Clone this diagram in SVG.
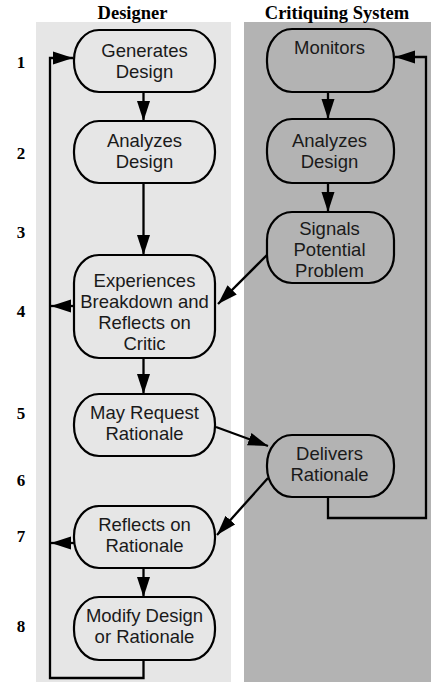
<svg xmlns="http://www.w3.org/2000/svg" width="431" height="682" viewBox="0 0 431 682">
<style>
.hdr{font-family:"Liberation Serif","Times New Roman",serif;font-weight:bold;font-size:18.5px;fill:#000;text-anchor:middle}
.num{font-family:"Liberation Serif","Times New Roman",serif;font-weight:bold;font-size:17px;fill:#000;text-anchor:middle}
.lbl{font-family:"Liberation Sans",Arial,sans-serif;font-size:18.5px;fill:#1a1a1a;text-anchor:middle}
.nl{fill:#e6e6e6;stroke:#000;stroke-width:2.2}
.nr{fill:#b3b3b3;stroke:#000;stroke-width:2.2}
.c{fill:none;stroke:#000;stroke-width:2.3;marker-end:url(#ah)}
</style>
<defs>
<marker id="ah" markerUnits="userSpaceOnUse" markerWidth="21" markerHeight="14" refX="20" refY="6.5" orient="auto" viewBox="0 0 21 13">
<path d="M0,0 L20,6.5 L0,13 z" fill="#000"/>
</marker>
</defs>
<rect x="0" y="0" width="431" height="682" fill="#fff"/>
<rect x="36" y="22" width="195" height="660" fill="#e6e6e6"/>
<rect x="244" y="22" width="187" height="660" fill="#b3b3b3"/>
<text class="hdr" x="132.5" y="19">Designer</text>
<text class="hdr" x="337" y="19">Critiquing System</text>
<g id="step-numbers">
<text class="num" x="21" y="68">1</text>
<text class="num" x="21" y="159">2</text>
<text class="num" x="21" y="238">3</text>
<text class="num" x="21" y="317">4</text>
<text class="num" x="21" y="419">5</text>
<text class="num" x="21" y="486">6</text>
<text class="num" x="21" y="542">7</text>
<text class="num" x="21" y="632">8</text>
</g>
<g id="connectors">
<line class="c" x1="143.5" y1="92" x2="143.5" y2="121"/>
<line class="c" x1="143.5" y1="183" x2="143.5" y2="255"/>
<line class="c" x1="143.5" y1="358" x2="143.5" y2="394"/>
<line class="c" x1="143.5" y1="568" x2="143.5" y2="597"/>
<line class="c" x1="328" y1="92" x2="328" y2="119"/>
<line class="c" x1="328" y1="183" x2="328" y2="212"/>
<line class="c" x1="268" y1="254" x2="218" y2="304"/>
<line class="c" x1="216" y1="427" x2="268" y2="446"/>
<line class="c" x1="268" y1="478" x2="217" y2="535"/>
<polyline class="c" points="143.5,660 143.5,678 50,678 50,58 73,58"/>
<line class="c" x1="80" y1="306" x2="51" y2="306"/>
<line class="c" x1="80" y1="543" x2="51" y2="543"/>
<polyline class="c" points="328,497 328,518 426,518 426,57 395,57"/>
</g>
<g id="n1"><rect class="nl" x="74" y="30" width="141" height="62" rx="25" ry="30"/><text class="lbl" x="144.5" y="57">Generates</text><text class="lbl" x="144.5" y="78">Design</text></g>
<g id="n2"><rect class="nl" x="74" y="121" width="141" height="62" rx="25" ry="30"/><text class="lbl" x="144.5" y="147">Analyzes</text><text class="lbl" x="144.5" y="168">Design</text></g>
<g id="n3"><rect class="nl" x="74" y="255" width="141" height="103" rx="25" ry="28"/><text class="lbl" x="144.5" y="287">Experiences</text><text class="lbl" x="144.5" y="308">Breakdown and</text><text class="lbl" x="144.5" y="329">Reflects on</text><text class="lbl" x="144.5" y="350">Critic</text></g>
<g id="n4"><rect class="nl" x="74" y="394" width="141" height="62" rx="25" ry="30"/><text class="lbl" x="144.5" y="419">May Request</text><text class="lbl" x="144.5" y="440">Rationale</text></g>
<g id="n5"><rect class="nl" x="74" y="506" width="141" height="62" rx="25" ry="30"/><text class="lbl" x="144.5" y="531">Reflects on</text><text class="lbl" x="144.5" y="552">Rationale</text></g>
<g id="n6"><rect class="nl" x="74" y="597" width="141" height="63" rx="25" ry="30"/><text class="lbl" x="144.5" y="622">Modify Design</text><text class="lbl" x="144.5" y="643">or Rationale</text></g>
<g id="m1"><rect class="nr" x="267" y="29" width="127" height="63" rx="25" ry="30"/><text class="lbl" x="329.5" y="54">Monitors</text></g>
<g id="m2"><rect class="nr" x="267" y="119" width="127" height="64" rx="25" ry="30"/><text class="lbl" x="329.5" y="147">Analyzes</text><text class="lbl" x="329.5" y="168">Design</text></g>
<g id="m3"><rect class="nr" x="267" y="212" width="127" height="71" rx="25" ry="28"/><text class="lbl" x="329.5" y="235">Signals</text><text class="lbl" x="329.5" y="256">Potential</text><text class="lbl" x="329.5" y="277">Problem</text></g>
<g id="m4"><rect class="nr" x="267" y="435" width="127" height="62" rx="25" ry="30"/><text class="lbl" x="329.5" y="460">Delivers</text><text class="lbl" x="329.5" y="481">Rationale</text></g>
</svg>
